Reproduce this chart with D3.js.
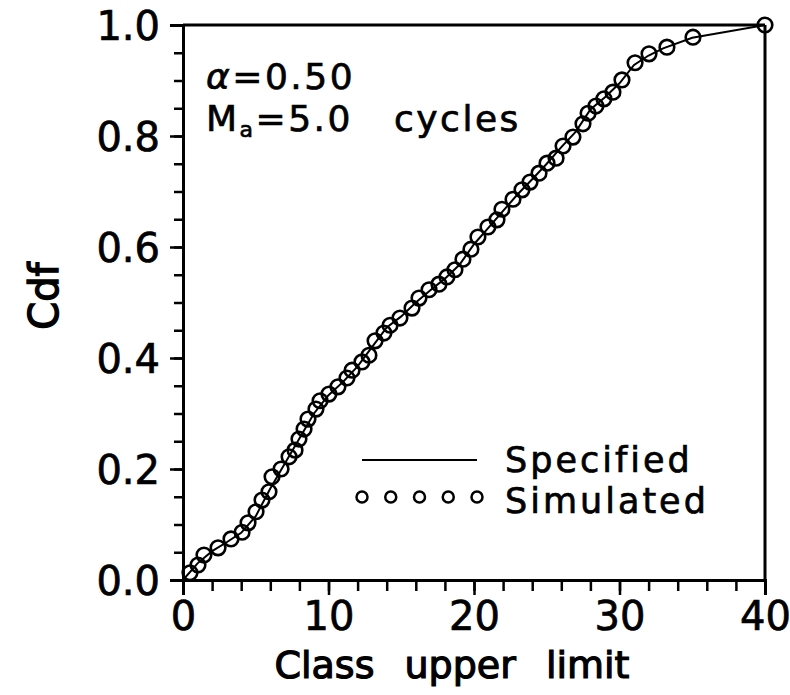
<!DOCTYPE html>
<html>
<head>
<meta charset="utf-8">
<script src="https://cdn.jsdelivr.net/npm/d3@7"></script>
<style>
  html, body { margin: 0; padding: 0; background: #fff; }
  svg { display: block; }
  text { font-family: "DejaVu Sans", sans-serif; fill: #000; stroke: #000; stroke-width: 0.7px; }
</style>
</head>
<body>
<svg id="chart" width="790" height="695"></svg>
<script>
// Specified cumulative distribution (class upper limit, cdf)
const specX = [0, 1, 2, 3, 4, 5, 6, 7, 8, 9, 10, 11, 12, 13, 14, 15, 16, 17, 18, 19, 20,
               21, 22, 23, 24, 25, 26, 27, 28, 29, 30, 31, 32, 33, 35, 40];
const specY = [0.0, 0.03, 0.052, 0.068, 0.085, 0.115, 0.165, 0.21, 0.255, 0.30, 0.333,
               0.357, 0.385, 0.42, 0.455, 0.475, 0.50, 0.522, 0.543, 0.568, 0.605,
               0.635, 0.665, 0.695, 0.722, 0.75, 0.78, 0.808, 0.848, 0.87, 0.895,
               0.928, 0.945, 0.958, 0.977, 1.0];

// Simulated cumulative distribution
const simX = [0.48, 1.03, 1.44, 2.41, 3.30, 4.06, 4.47, 5.02, 5.43, 5.91, 6.12, 6.74,
              7.29, 7.70, 7.97, 8.32, 8.59, 9.14, 9.42, 10.03, 10.65, 11.27, 11.62,
              12.30, 12.78, 13.20, 13.81, 14.23, 14.91, 15.74, 16.22, 16.91, 17.59,
              18.14, 18.69, 19.24, 19.79, 20.27, 20.96, 21.58, 21.92, 22.68, 23.30,
              23.85, 24.47, 25.02, 25.64, 26.12, 26.80, 27.49, 27.84, 28.38, 28.93,
              29.55, 30.17, 31.07, 32.03, 33.26, 35.05, 40.0];
const simY = [0.013, 0.027, 0.045, 0.058, 0.074, 0.086, 0.103, 0.123, 0.144, 0.159,
              0.186, 0.200, 0.222, 0.234, 0.254, 0.272, 0.290, 0.308, 0.323, 0.335,
              0.348, 0.364, 0.378, 0.393, 0.405, 0.431, 0.445, 0.459, 0.472, 0.490,
              0.508, 0.523, 0.533, 0.546, 0.559, 0.578, 0.596, 0.618, 0.636, 0.649,
              0.668, 0.686, 0.703, 0.717, 0.733, 0.751, 0.760, 0.782, 0.798, 0.822,
              0.841, 0.854, 0.867, 0.879, 0.901, 0.932, 0.948, 0.960, 0.978, 1.0];

const xTickLabels = [0, 10, 20, 30, 40];
const yTickLabels = [0.0, 0.2, 0.4, 0.6, 0.8, 1.0];
const legendLabels = ["Specified", "Simulated"];

const svg = d3.select("#chart");
const plotLeft = 183, plotRight = 765, plotTop = 25, plotBottom = 580;

const x = d3.scaleLinear().domain([0, 40]).range([plotLeft, plotRight]);
const y = d3.scaleLinear().domain([0, 1]).range([plotBottom, plotTop]);

// Frame: top and right borders
svg.append("line").attr("x1", plotLeft).attr("x2", plotRight).attr("y1", plotTop).attr("y2", plotTop)
  .attr("stroke", "#000").attr("stroke-width", 3);
svg.append("line").attr("x1", plotRight).attr("x2", plotRight).attr("y1", plotTop).attr("y2", plotBottom)
  .attr("stroke", "#000").attr("stroke-width", 3);

// X axis: minor ticks every 2, labelled major ticks every 10
const xAxisMinor = d3.axisBottom(x).tickValues(d3.range(0, 41, 2)).tickSize(11).tickFormat("");
const xAxisMajor = d3.axisBottom(x).tickValues(xTickLabels).tickSize(15).tickPadding(6)
  .tickFormat(d3.format("d"));
const gxMinor = svg.append("g").attr("transform", `translate(0,${plotBottom})`).call(xAxisMinor);
const gx = svg.append("g").attr("transform", `translate(0,${plotBottom})`).call(xAxisMajor);

// Y axis: minor ticks every 0.05, labelled major ticks every 0.2
const yAxisMinor = d3.axisLeft(y).tickValues(d3.range(0, 21).map(i => i * 0.05)).tickSize(9).tickFormat("");
const yAxisMajor = d3.axisLeft(y).tickValues(yTickLabels).tickSize(13).tickPadding(10)
  .tickFormat(d3.format(".1f"));
const gyMinor = svg.append("g").attr("transform", `translate(${plotLeft},0)`).call(yAxisMinor);
const gy = svg.append("g").attr("transform", `translate(${plotLeft},0)`).call(yAxisMajor);

[gxMinor, gx, gyMinor, gy].forEach(g => {
  g.select(".domain").attr("stroke", "#000").attr("stroke-width", 3);
  g.selectAll(".tick line").attr("stroke", "#000").attr("stroke-width", 2.5);
});
gx.selectAll(".tick text").attr("font-size", 40).attr("dy", "0.72em")
  .style("font-family", "DejaVu Sans, sans-serif");
gy.selectAll(".tick text").attr("font-size", 40).attr("dy", "0.36em")
  .style("font-family", "DejaVu Sans, sans-serif");

// Axis titles
svg.append("text").attr("x", 452).attr("y", 678)
  .attr("text-anchor", "middle").attr("font-size", 38)
  .attr("word-spacing", 18)
  .style("stroke-width", "1.2px")
  .text("Class upper limit");
svg.append("text").attr("transform", `translate(58,296) rotate(-90)`)
  .attr("text-anchor", "middle").attr("font-size", 40)
  .style("stroke-width", "1.4px")
  .text("Cdf");

// Specified curve
const line = d3.line().x((d, i) => x(specX[i])).y((d, i) => y(specY[i]));
svg.append("path").datum(specY).attr("d", line)
  .attr("fill", "none").attr("stroke", "#000").attr("stroke-width", 2);

// Simulated points
svg.append("g").selectAll("circle").data(simY).join("circle")
  .attr("cx", (d, i) => x(simX[i])).attr("cy", d => y(d)).attr("r", 7.3)
  .attr("fill", "none").attr("stroke", "#000").attr("stroke-width", 2.6);

// Annotation
const ann = svg.append("text").attr("x", 206).attr("y", 89).attr("font-size", 36)
  .attr("letter-spacing", 2.5);
ann.append("tspan").attr("font-style", "italic").text("α");
ann.append("tspan").text("=0.50");
const ann2 = svg.append("text").attr("x", 206).attr("y", 131).attr("font-size", 36)
  .attr("letter-spacing", 2.5);
ann2.append("tspan").text("M");
ann2.append("tspan").attr("font-size", 22).attr("dy", 6).text("a");
ann2.append("tspan").attr("dy", -6).text("=5.0");
ann2.append("tspan").attr("x", 394).text("cycles");

// Legend
const lgX0 = 362, lgX1 = 477, lgTextX = 505;
svg.append("line").attr("x1", lgX0).attr("x2", lgX1).attr("y1", 460).attr("y2", 460)
  .attr("stroke", "#000").attr("stroke-width", 2);
svg.append("g").selectAll("circle").data(d3.range(5)).join("circle")
  .attr("cx", d => lgX0 + d * (lgX1 - lgX0) / 4).attr("cy", 497).attr("r", 5.5)
  .attr("fill", "none").attr("stroke", "#000").attr("stroke-width", 2.5);
svg.append("g").selectAll("text").data(legendLabels).join("text")
  .attr("x", lgTextX).attr("y", (d, i) => 472 + i * 41).attr("font-size", 35)
  .attr("letter-spacing", 3)
  .text(d => d);
</script>
</body>
</html>
